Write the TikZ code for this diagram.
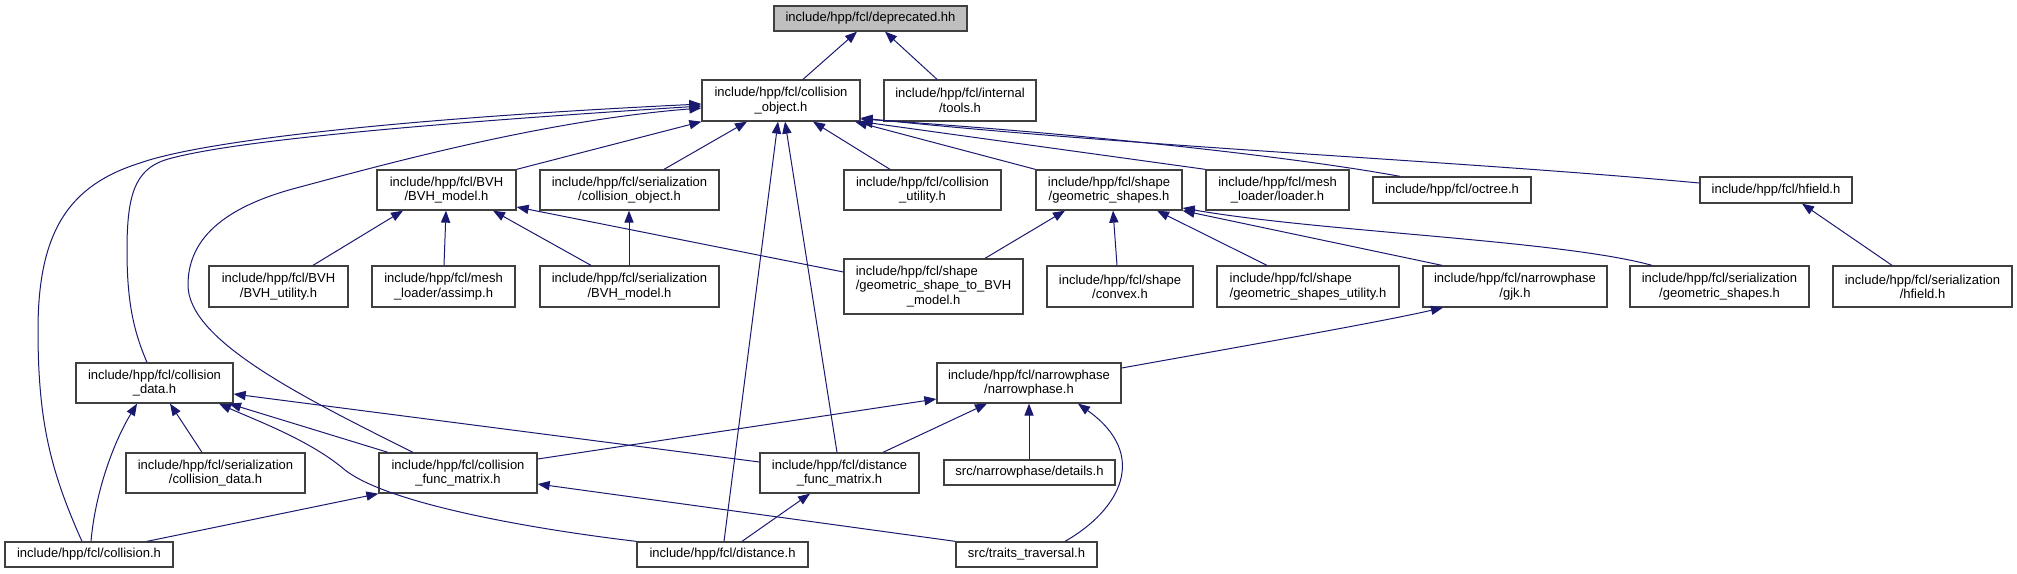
\documentclass[tikz,border=0pt]{standalone}
\usepackage{fontspec}
\newfontfamily\dfont{Liberation Sans}
\usetikzlibrary{arrows.meta}
\definecolor{edgeblue}{HTML}{191970}
\definecolor{boxgray}{HTML}{BFBFBF}
\newcommand\lefton[2]{\setbox0\hbox{#2}\hbox to\wd0{#1\hfil}}
\newcommand\bx[7][]{\node[box,#1,minimum width={(#5-#3)*0.5pt},minimum height={(#6-#4)*0.5pt}] (#2) at ({(#3+#5)/2},{(#4+#6)/2}) {#7};}
\tikzset{
  box/.style={draw=black!75, line width=0.65pt, fill=white, inner sep=0pt, align=center,
    font=\dfont\fontsize{6.5}{7.15}\selectfont},
  dep/.style={draw=edgeblue, line width=0.5pt, -{Triangle[length=6pt,width=4.6pt]}}
}
\begin{document}
\begin{tikzpicture}[x=0.5pt,y=-0.5pt]
\useasboundingbox (0,0) rectangle (2017,573);
% nodes
\bx[fill=boxgray]{depr}{774}{6}{967}{31}{include/hpp/fcl/deprecated.hh}
\bx{colobj}{702}{80}{860}{121}{include/hpp/fcl/collision\\\_object.h}
\bx{tools}{884}{80}{1036}{121}{include/hpp/fcl/internal\\/tools.h}
\bx{bvhm}{377}{170}{516}{210}{include/hpp/fcl/BVH\\/BVH\_model.h}
\bx{scolobj}{540}{170}{719}{210}{include/hpp/fcl/serialization\\/collision\_object.h}
\bx{cutil}{844}{170}{1001}{210}{include/hpp/fcl/collision\\\_utility.h}
\bx{geo}{1036}{170}{1182}{210}{include/hpp/fcl/shape\\/geometric\_shapes.h}
\bx{loader}{1206}{170}{1349}{210}{include/hpp/fcl/mesh\\\_loader/loader.h}
\bx{octree}{1373}{177}{1531}{203}{include/hpp/fcl/octree.h}
\bx{hfield}{1700}{177}{1852}{203}{include/hpp/fcl/hfield.h}
\bx{bvhu}{209}{266}{348}{307}{include/hpp/fcl/BVH\\/BVH\_utility.h}
\bx{assimp}{372}{266}{515}{307}{include/hpp/fcl/mesh\\\_loader/assimp.h}
\bx{sbvhm}{540}{266}{719}{307}{include/hpp/fcl/serialization\\/BVH\_model.h}
\bx{gtob}{844}{259}{1023}{314}{\lefton{include/hpp/fcl/shape}{/geometric\_shape\_to\_BVH}\\/geometric\_shape\_to\_BVH\\\_model.h}
\bx{convex}{1047}{266}{1193}{307}{include/hpp/fcl/shape\\/convex.h}
\bx{gsu}{1217}{266}{1399}{307}{\lefton{include/hpp/fcl/shape}{/geometric\_shapes\_utility.h}\\/geometric\_shapes\_utility.h}
\bx{gjk}{1423}{266}{1607}{307}{include/hpp/fcl/narrowphase\\/gjk.h}
\bx{sgeo}{1630}{266}{1809}{307}{include/hpp/fcl/serialization\\/geometric\_shapes.h}
\bx{shf}{1833}{266}{2012}{307}{include/hpp/fcl/serialization\\/hfield.h}
\bx{cdata}{76}{363}{233}{403}{include/hpp/fcl/collision\\\_data.h}
\bx{narrow}{937}{363}{1121}{403}{include/hpp/fcl/narrowphase\\/narrowphase.h}
\bx{scdata}{126}{453}{305}{493}{include/hpp/fcl/serialization\\/collision\_data.h}
\bx{cfm}{379}{453}{537}{493}{include/hpp/fcl/collision\\\_func\_matrix.h}
\bx{dfm}{760}{453}{919}{493}{include/hpp/fcl/distance\\\_func\_matrix.h}
\bx{details}{944}{460}{1115}{485}{src/narrowphase/details.h}
\bx{coll}{5}{542}{173}{567}{include/hpp/fcl/collision.h}
\bx{dist}{637}{542}{808}{567}{include/hpp/fcl/distance.h}
\bx{traits}{956}{542}{1097}{567}{src/traits\_traversal.h}
% edges to deprecated
\draw[dep] (colobj.north -| 803,0) -- (depr.south -| 857,0);
\draw[dep] (tools.north -| 937,0) -- (depr.south -| 885,0);
% edges to collision_object
\draw[dep] (bvhm.north east) -- (colobj.south west);
\draw[dep] (scolobj.north -| 664,0) -- (colobj.south -| 747,0);
\draw[dep] (cutil.north -| 890,0) -- (colobj.south -| 813,0);
\draw[dep] (geo.north west) -- (colobj.south -| 855,0);
\draw[dep] (loader.north west) -- (colobj.south east);
\draw[dep] (octree.north -| 1400,0) .. controls (1300,158) and (1100,135) .. (colobj.east |- 0,119);
\draw[dep] (hfield.west |- 0,183) .. controls (1450,160) and (1150,148) .. (colobj.east |- 0,118);
\draw[dep] (coll.north -| 82,0) .. controls (50,470) and (38,420) .. (38,330) .. controls (38,230) and (70,185) .. (140,163) .. controls (205,140) and (410,118) .. (colobj.west |- 0,104);
\draw[dep] (cdata.north -| 147,0) .. controls (133,330) and (127,300) .. (127,250) .. controls (127,195) and (135,170) .. (165,160) .. controls (230,140) and (450,122) .. (colobj.west |- 0,106);
\draw[dep] (cfm.north -| 413,0) .. controls (300,396) and (188,340) .. (188,285) .. controls (188,235) and (230,205) .. (300,187) .. controls (400,160) and (550,120) .. (colobj.west |- 0,108);
\draw[dep] (dist.north -| 724,0) -- (colobj.south -| 778,0);
\draw[dep] (dfm.north -| 837,0) -- (colobj.south -| 785,0);
% edges to BVH_model / serialization
\draw[dep] (bvhu.north -| 313,0) -- (bvhm.south -| 403,0);
\draw[dep] (assimp.north -| 444,0) -- (bvhm.south -| 446,0);
\draw[dep] (sbvhm.north -| 591,0) -- (bvhm.south -| 493,0);
\draw[dep] (sbvhm.north -| 629,0) -- (scolobj.south -| 629,0);
\draw[dep] (gtob.west |- 0,272) -- (bvhm.east |- 0,207);
% edges to geometric_shapes
\draw[dep] (gtob.north -| 985,0) -- (geo.south -| 1065,0);
\draw[dep] (convex.north -| 1117,0) -- (geo.south -| 1113,0);
\draw[dep] (gsu.north -| 1267,0) -- (geo.south -| 1157,0);
\draw[dep] (gjk.north -| 1442,0) -- (geo.south east);
\draw[dep] (sgeo.north -| 1652,0) .. controls (1560,240) and (1320,232) .. (geo.east |- 0,208);
% hfield
\draw[dep] (shf.north -| 1892,0) -- (hfield.south -| 1802,0);
% narrowphase
\draw[dep] (narrow.east |- 0,368) .. controls (1250,345) and (1380,322) .. (gjk.south -| 1443,0);
\draw[dep] (cfm.east |- 0,459) -- (narrow.west |- 0,399);
\draw[dep] (dfm.north -| 883,0) -- (narrow.south -| 987,0);
\draw[dep] (details.north -| 1029,0) -- (narrow.south -| 1029,0);
\draw[dep] (traits.north -| 1065,0) .. controls (1120,510) and (1150,455) .. (narrow.south -| 1078,0);
% collision_data
\draw[dep] (scdata.north -| 202,0) -- (cdata.south -| 170,0);
\draw[dep] (coll.north -| 91,0) .. controls (95,495) and (112,445) .. (cdata.south -| 137,0);
\draw[dep] (cfm.north -| 388,0) -- (cdata.south -| 229,0);
\draw[dep] (dist.north west) .. controls (540,530) and (390,505) .. (345,470) .. controls (310,440) and (255,420) .. (cdata.south -| 219,0);
\draw[dep] (dfm.west |- 0,462) -- (cdata.east |- 0,394);
% func matrices
\draw[dep] (coll.north -| 147,0) -- (cfm.south west);
\draw[dep] (traits.north west) -- (cfm.east |- 0,484);
\draw[dep] (dist.north -| 742,0) -- (dfm.south -| 810,0);
\end{tikzpicture}
\end{document}
